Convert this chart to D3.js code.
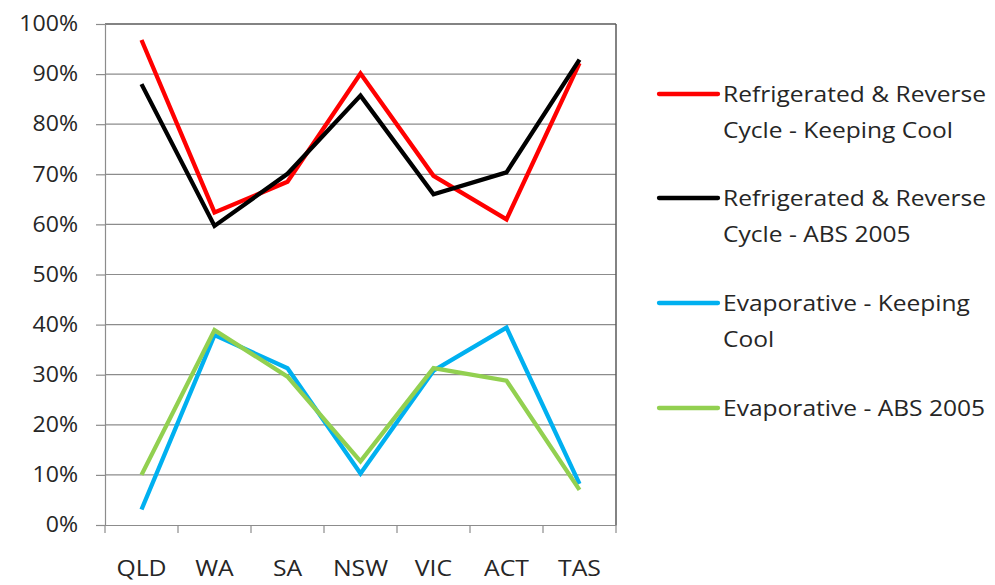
<!DOCTYPE html>
<html><head><meta charset="utf-8">
<script src="https://cdn.jsdelivr.net/npm/d3@7"></script>
<style>body{margin:0;background:#fff;} svg{display:block;} text{font-family:"Open Sans",sans-serif;fill:#262626;}</style>
</head><body>
<svg id="c" width="995" height="585"></svg>
<script>
const categories = ["QLD","WA","SA","NSW","VIC","ACT","TAS"];
const refrigKeepingCool = [96.8, 62.4, 68.5, 90.1, 69.7, 61.0, 92.2];
const refrigABS2005 = [88.0, 59.7, 70.1, 85.7, 66.0, 70.4, 92.9];
const evapKeepingCool = [3.1, 37.9, 31.3, 10.3, 30.8, 39.4, 8.2];
const evapABS2005 = [10.0, 38.9, 29.6, 12.7, 31.3, 28.8, 7.0];
const yTicks = [0,10,20,30,40,50,60,70,80,90,100];
const seriesNames = [
  ["Refrigerated & Reverse","Cycle - Keeping Cool"],
  ["Refrigerated & Reverse","Cycle - ABS 2005"],
  ["Evaporative - Keeping","Cool"],
  ["Evaporative - ABS 2005"]
];
const seriesColors = ["#FF0000","#000000","#00B0F0","#92D050"];
const seriesValues = [refrigKeepingCool, refrigABS2005, evapKeepingCool, evapABS2005];

const svg = d3.select("#c");
const L = 105, R = 616, T = 24, B = 525;
const x = d3.scaleBand().domain(categories).range([L, R]);
const y = d3.scaleLinear().domain([0,100]).range([B, T]);

// gridlines
svg.append("g").selectAll("line").data(yTicks.filter(d=>d>0 && d<100)).join("line")
  .attr("x1", L).attr("x2", R).attr("y1", d=>y(d)).attr("y2", d=>y(d))
  .attr("stroke", "#8c8c8c").attr("stroke-width", 1.2);
// top & right border
svg.append("line").attr("x1",L).attr("x2",R).attr("y1",y(100)).attr("y2",y(100)).attr("stroke","#5a5a5a").attr("stroke-width",1.5);
svg.append("line").attr("x1",R).attr("x2",R).attr("y1",y(100)).attr("y2",B).attr("stroke","#5a5a5a").attr("stroke-width",1.5);

// y axis
const sy = 1.1, sx = 1.18, sl = 1.17;
const yAxis = d3.axisLeft(y).tickValues(yTicks).tickFormat(d=>d+"%").tickSize(9).tickPadding(18);
const gy = svg.append("g").attr("transform", `translate(${L},0)`).call(yAxis);
gy.select(".domain").attr("stroke","#8c8c8c").attr("stroke-width",1.2);
gy.selectAll(".tick line").attr("stroke","#8c8c8c").attr("stroke-width",1.2);
gy.selectAll(".tick text").style("font-size","21px").attr("fill","#262626")
  .attr("x", -27/sy).attr("transform", `scale(${sy},1)`);

// x axis
const xAxis = d3.axisBottom(x).tickSize(0).tickPadding(36);
const gx = svg.append("g").attr("transform", `translate(0,${B})`).call(xAxis);
gx.select(".domain").attr("stroke","#8c8c8c").attr("stroke-width",1.2);
gx.selectAll(".tick text").style("font-size","21px").attr("fill","#262626")
  .attr("transform", `scale(${sx},1)`);
// x boundary ticks
const bounds = categories.map(c=>x(c)).concat([R]);
svg.append("g").selectAll("line").data(bounds).join("line")
  .attr("x1",d=>d).attr("x2",d=>d).attr("y1",B).attr("y2",B+8)
  .attr("stroke","#8c8c8c").attr("stroke-width",1.2);

// lines
const line = d3.line().x((d,i)=>x(categories[i]) + x.bandwidth()/2).y(d=>y(d));
seriesValues.forEach((vals, k) => {
  svg.append("path").datum(vals).attr("d", line).attr("fill","none")
    .attr("stroke", seriesColors[k]).attr("stroke-width", 4.3).attr("stroke-linejoin","miter");
});

// legend
const legY = [94, 198, 303, 408];
seriesNames.forEach((lines, k) => {
  const g = svg.append("g").attr("transform", `translate(659,${legY[k]})`);
  g.append("line").attr("x1",0).attr("x2",59).attr("y1",0).attr("y2",0)
    .attr("stroke", seriesColors[k]).attr("stroke-width",4.3).attr("stroke-linecap","round");
  const tg = g.append("g").attr("transform", `translate(64,0) scale(${sl},1)`);
  lines.forEach((t, j) => {
    tg.append("text").attr("x", 0).attr("y", 8 + j*36).text(t).style("font-size","21px");
  });
});
</script>
</body></html>
